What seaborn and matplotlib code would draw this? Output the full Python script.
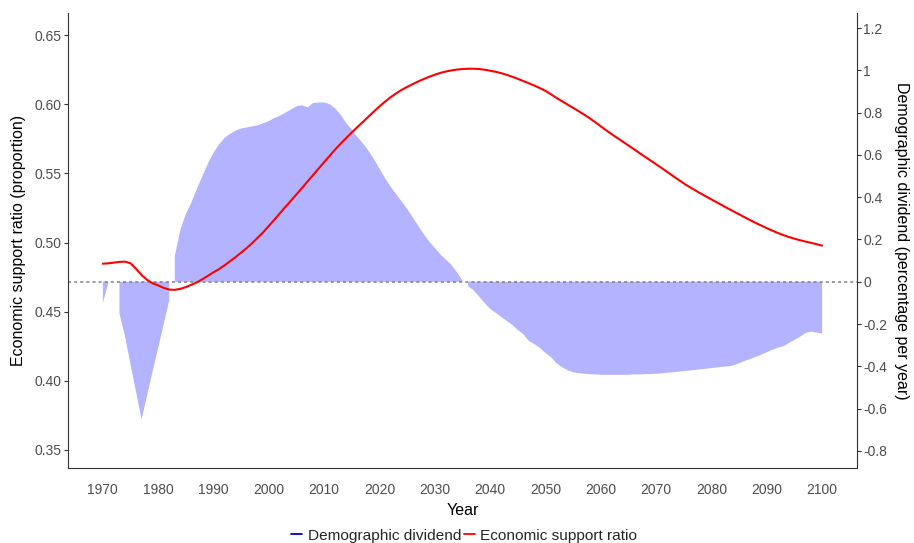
import numpy as np
import pandas as pd
import seaborn as sns
import matplotlib
matplotlib.use('Agg')
import matplotlib.pyplot as plt
from matplotlib.lines import Line2D

# Годы
years = list(range(1970, 2101))

# Экономический коэффициент поддержки (левая ось)
support_ratio = [
    0.4847, 0.4850, 0.4855, 0.4860, 0.4862, 0.4850, 0.4810, 0.4765, 0.4730, 0.4705,  # 1970-1979
    0.4690, 0.4672, 0.4660, 0.4658, 0.4665, 0.4678, 0.4695, 0.4712, 0.4735, 0.4760,  # 1980-1989
    0.4785, 0.4808, 0.4835, 0.4865, 0.4895, 0.4927, 0.4960, 0.4996, 0.5035, 0.5075,  # 1990-1999
    0.5120, 0.5165, 0.5212, 0.5258, 0.5303, 0.5348, 0.5395, 0.5441, 0.5488, 0.5535,  # 2000-2009
    0.5582, 0.5628, 0.5673, 0.5716, 0.5757, 0.5797, 0.5835, 0.5872, 0.5910, 0.5948,  # 2010-2019
    0.5985, 0.6019, 0.6051, 0.6079, 0.6104, 0.6126, 0.6146, 0.6165, 0.6183, 0.6199,  # 2020-2029
    0.6214, 0.6227, 0.6237, 0.6245, 0.6251, 0.6255, 0.6257, 0.6257, 0.6255, 0.6250,  # 2030-2039
    0.6243, 0.6235, 0.6225, 0.6213, 0.6199, 0.6184, 0.6168, 0.6152, 0.6135, 0.6117,  # 2040-2049
    0.6097, 0.6072, 0.6046, 0.6022, 0.5998, 0.5974, 0.5950, 0.5925, 0.5899, 0.5870,  # 2050-2059
    0.5840, 0.5811, 0.5783, 0.5756, 0.5729, 0.5702, 0.5675, 0.5647, 0.5620, 0.5593,  # 2060-2069
    0.5566, 0.5539, 0.5511, 0.5483, 0.5455, 0.5428, 0.5403, 0.5379, 0.5356, 0.5334,  # 2070-2079
    0.5312, 0.5290, 0.5268, 0.5246, 0.5225, 0.5204, 0.5183, 0.5162, 0.5142, 0.5123,  # 2080-2089
    0.5104, 0.5086, 0.5069, 0.5054, 0.5040, 0.5028, 0.5017, 0.5007, 0.4998, 0.4988,  # 2090-2099
    0.4978,                                                                          # 2100
]

# Демографический дивиденд (правая ось, % в год)
dividend = [
    -0.100, -0.005, 0.010, -0.150, -0.257, -0.390, -0.520, -0.650, -0.537, -0.423,  # 1970-1979
    -0.313, -0.200, -0.088, 0.120, 0.245, 0.320, 0.375, 0.440, 0.500, 0.560,         # 1980-1989
    0.610, 0.650, 0.680, 0.700, 0.715, 0.725, 0.730, 0.735, 0.740, 0.750,            # 1990-1999
    0.760, 0.775, 0.785, 0.800, 0.815, 0.830, 0.835, 0.825, 0.845, 0.848,            # 2000-2009
    0.848, 0.840, 0.820, 0.790, 0.750, 0.720, 0.685, 0.655, 0.620, 0.580,            # 2010-2019
    0.535, 0.490, 0.450, 0.415, 0.380, 0.345, 0.305, 0.265, 0.225, 0.190,            # 2020-2029
    0.160, 0.130, 0.105, 0.080, 0.045, 0.005, -0.020, -0.040, -0.070, -0.100,        # 2030-2039
    -0.128, -0.147, -0.166, -0.185, -0.204, -0.228, -0.247, -0.280, -0.295, -0.313,  # 2040-2049
    -0.337, -0.356, -0.385, -0.404, -0.418, -0.428, -0.432, -0.435, -0.437, -0.438,  # 2050-2059
    -0.440, -0.440, -0.440, -0.440, -0.440, -0.440, -0.438, -0.438, -0.437, -0.436,  # 2060-2069
    -0.435, -0.433, -0.430, -0.428, -0.425, -0.422, -0.420, -0.417, -0.414, -0.411,  # 2070-2079
    -0.408, -0.405, -0.402, -0.400, -0.395, -0.385, -0.375, -0.365, -0.355, -0.345,  # 2080-2089
    -0.333, -0.322, -0.312, -0.305, -0.290, -0.275, -0.260, -0.242, -0.236, -0.240,  # 2090-2099
    -0.245,                                                                          # 2100
]

df = pd.DataFrame({'year': years, 'ratio': support_ratio, 'dividend': dividend})

sns.set_style('white')
plt.rcParams['font.family'] = ['Liberation Sans', 'DejaVu Sans']
plt.rcParams['axes.unicode_minus'] = False

fig = plt.figure(figsize=(9.14, 5.43), dpi=100)
ax1 = fig.add_axes([0.0744, 0.138, 0.8632, 0.838])
ax2 = ax1.twinx()

# Площадь дивиденда (по знаку, как geom_area с группами)
x = df['year'].values
d = df['dividend'].values
ax2.fill_between(x, 0, d, where=d >= 0, color='#B3B3FF', linewidth=0, interpolate=False)
ax2.fill_between(x, 0, d, where=d < 0, color='#B3B3FF', linewidth=0, interpolate=False)
ax2.axhline(0, color='#808080', linestyle=(0, (2, 2)), linewidth=1.1)

# Линия коэффициента поддержки
ax1.set_zorder(ax2.get_zorder() + 1)
ax1.patch.set_visible(False)
sns.lineplot(data=df, x='year', y='ratio', ax=ax1, color='red', linewidth=1.5, legend=False)

ax1.set_xlim(1963.7, 2106.3)
ax1.set_ylim(0.3369, 0.666)
ax2.set_ylim(-0.881, 1.271)
ax1.set_xticks(range(1970, 2101, 10))
ax1.set_yticks([0.35, 0.40, 0.45, 0.50, 0.55, 0.60, 0.65])
ax1.set_yticklabels(['0.35', '0.40', '0.45', '0.50', '0.55', '0.60', '0.65'])
ax2.set_yticks([-0.8, -0.6, -0.4, -0.2, 0, 0.2, 0.4, 0.6, 0.8, 1, 1.2])
ax2.set_yticklabels(['-0.8', '-0.6', '-0.4', '-0.2', '0', '0.2', '0.4', '0.6', '0.8', '1', '1.2'])

for ax in (ax1, ax2):
    ax.tick_params(axis='both', which='major', direction='out', length=3, width=0.8,
                   color='#333333', labelcolor='#4D4D4D', labelsize=10, pad=1.5)
    ax.spines['top'].set_visible(False)
    for s in ('left', 'right', 'bottom'):
        ax.spines[s].set_color('#333333')
        ax.spines[s].set_linewidth(0.8)
ax1.tick_params(axis='x', pad=8)
ax1.spines['right'].set_visible(False)
ax2.spines['left'].set_visible(False)
ax2.spines['bottom'].set_visible(False)

ax1.set_xlabel('Year', fontsize=11.5, color='black', labelpad=4)
ax1.set_ylabel('Economic support ratio (proportion)', fontsize=11.5, color='black', labelpad=6)
ax2.set_ylabel('Demographic dividend (percentage per year)', fontsize=11.5, color='black',
               rotation=270, labelpad=16)

handles = [Line2D([0], [0], color='#0000CC', linewidth=1.3),
           Line2D([0], [0], color='red', linewidth=1.3)]
fig.legend(handles, ['Demographic dividend', 'Economic support ratio'], loc='lower center',
           bbox_to_anchor=(0.508, -0.025), ncol=2, frameon=False, fontsize=11.1,
           handlelength=0.7, handletextpad=0.35, columnspacing=0.2)

plt.savefig('out.png', dpi=100)
